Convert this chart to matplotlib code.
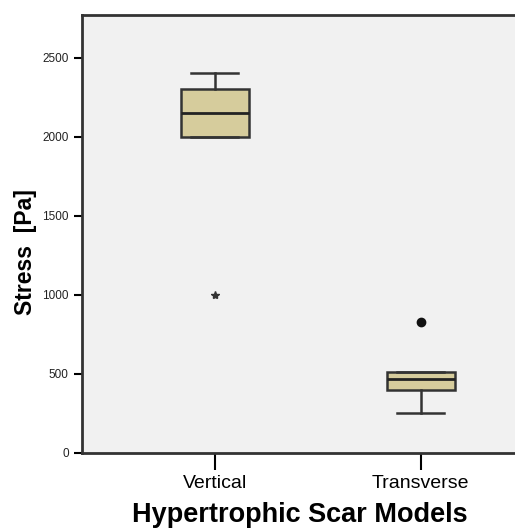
import numpy as np
import matplotlib.pyplot as plt

plt.rcParams['font.family'] = ['Liberation Sans', 'DejaVu Sans']

groups = ['Vertical', 'Transverse']
q1 = [2000, 400]
med = [2150, 470]
q3 = [2300, 510]
wlo = [2000, 250]
whi = [2400, 510]
outliers = [[1000], [830]]
out_markers = ['*', 'o']

stats = []
for i in range(len(groups)):
    stats.append({'med': med[i], 'q1': q1[i], 'q3': q3[i],
                  'whislo': wlo[i], 'whishi': whi[i], 'fliers': []})

fig = plt.figure(figsize=(5.15, 5.31), dpi=100)
ax = fig.add_axes([0.159, 0.147, 0.845, 0.825])
ax.set_facecolor('#f1f1f1')

pos = np.arange(1, len(groups) + 1)
ax.bxp(stats, positions=pos, widths=0.33, patch_artist=True, showfliers=False,
       boxprops=dict(facecolor='#d6cc9c', edgecolor='#333333', linewidth=1.8),
       medianprops=dict(color='#222222', linewidth=2),
       whiskerprops=dict(color='#333333', linewidth=1.8),
       capprops=dict(color='#333333', linewidth=1.8),
       capwidths=0.23)

for i in range(len(groups)):
    for v in outliers[i]:
        if out_markers[i] == '*':
            ax.plot(pos[i], v, marker='*', color='#333333', markersize=6, linestyle='none')
        else:
            ax.plot(pos[i], v, marker='o', color='#111111', markersize=6, linestyle='none')

ax.set_xlim(0.356, 2.468)
ax.set_ylim(0, 2770)
ax.set_yticks([0, 500, 1000, 1500, 2000, 2500])
ax.set_xticks(pos)
ax.set_xticklabels(groups, fontsize=14)
ax.tick_params(axis='y', labelsize=8.5, length=6, width=1.5, labelcolor='#222222')
ax.tick_params(axis='x', length=12, width=1.5, pad=4)

for s in ['left', 'bottom', 'top']:
    ax.spines[s].set_linewidth(2)
    ax.spines[s].set_color('#333333')
ax.spines['right'].set_visible(False)

ax.set_ylabel('Stress  [Pa]', fontsize=16.5, fontweight='bold')
ax.yaxis.set_label_coords(-0.104, 0.459)
ax.set_xlabel('Hypertrophic Scar Models', fontsize=19.5, fontweight='bold', labelpad=7)

fig.savefig('out.png', dpi=100)
